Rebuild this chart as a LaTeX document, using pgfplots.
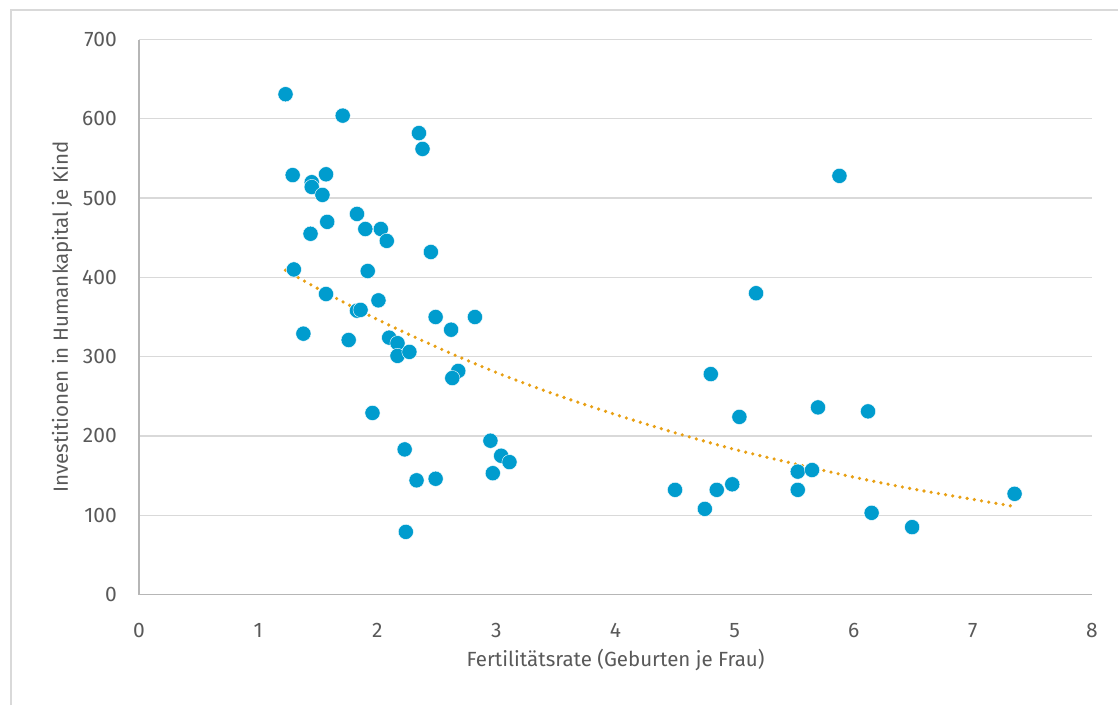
\documentclass[border=0pt]{standalone}
\usepackage{fontspec}
\setmainfont{Fira Sans}
\usepackage{pgfplots}
\pgfplotsset{compat=1.18}
\definecolor{pt}{RGB}{0,156,206}
\definecolor{tr}{RGB}{232,160,20}
\definecolor{gr}{RGB}{217,217,217}
\definecolor{txt}{RGB}{89,89,89}
\begin{document}
\begin{tikzpicture}[x=1pt,y=1pt]
\path[use as bounding box] (0,0) rectangle (1118,-705);
\draw[gr, line width=1.3pt] (11,-705) -- (11,-10) -- (1118,-10);
\begin{axis}[
  at={(139pt,-594.5pt)}, anchor=south west,
  scale only axis, width=953pt, height=555pt,
  xmin=0, xmax=8, ymin=0, ymax=700,
  xtick={0,1,...,8}, ytick={0,100,...,700},
  axis x line*=bottom, axis y line*=left,
  axis line style={gr!80!black!90, line width=1.3pt, -},
  major tick length=0pt,
  ymajorgrids, grid style={gr, line width=1.3pt},
  /pgf/number format/assume math mode=true,
  tick label style={font=\fontsize{21}{24}\selectfont, text=txt},
  yticklabel style={anchor=east, inner sep=0pt, xshift=-22pt},
  xticklabel style={anchor=base, inner sep=0pt, yshift=-43pt},
  every axis x label/.style={at={(axis description cs:0.5,0)}, anchor=base, inner sep=0pt, yshift=-72pt, font=\fontsize{20.5}{24}\selectfont, text=txt},
  every axis y label/.style={at={(axis description cs:0,0.5)}, rotate=90, anchor=base, inner sep=0pt, yshift=71pt, font=\fontsize{20.5}{24}\selectfont, text=txt},
  xlabel={Fertilitätsrate (Geburten je Frau)},
  ylabel={Investitionen in Humankapital je Kind},
  clip=false,
]
\addplot[only marks, mark=*, mark size=7.6pt, mark options={fill=pt, draw=white, line width=0.4pt}] table {
x y
1.23 631
1.71 604
2.35 582
2.38 562
1.29 529
1.57 530
1.45 520
1.45 514
1.54 504
1.83 480
1.58 470
1.44 455
1.90 461
2.03 461
2.08 446
2.45 432
1.30 410
1.92 408
1.57 379
2.01 371
1.83 358
1.86 359
1.38 329
1.76 321
2.10 324
2.17 317
2.17 301
2.27 306
2.49 350
2.62 334
2.82 350
2.68 282
2.63 273
1.96 229
2.95 194
3.04 175
3.11 167
2.97 153
2.23 183
2.33 144
2.49 146
2.24 79
5.88 528
5.18 380
4.80 278
5.04 224
5.70 236
6.12 231
5.53 155
5.65 157
4.50 132
4.85 132
4.98 139
5.53 132
4.75 108
6.15 103
6.49 85
7.35 127
};
\addplot[tr, line width=3.6pt, line cap=round, dash pattern=on 0pt off 7.3pt, smooth] table {
x y
1.23 409
1.5 386
2 347
2.5 312
3 280
3.5 252
4 227
4.5 204
5 183
5.5 165
6 148
6.5 133
7 120
7.35 111
};
\end{axis}
\end{tikzpicture}
\end{document}
